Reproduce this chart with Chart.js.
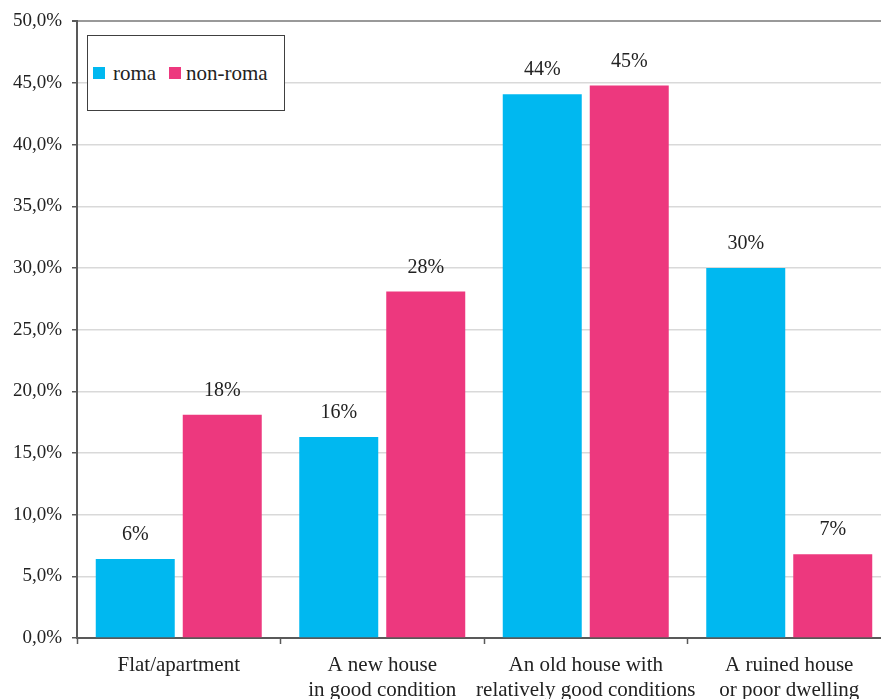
<!DOCTYPE html>
<html>
<head>
<meta charset="utf-8">
<script src="https://cdn.jsdelivr.net/npm/chart.js@4"></script>
<style>
  html, body { margin: 0; padding: 0; background: #fff; overflow: hidden; }
  #wrap { position: relative; width: 895px; height: 699px; }
  #legendBox {
    position: absolute; left: 87px; top: 35px; width: 198px; height: 76px;
    border: 1px solid #404040; box-sizing: border-box; background: #fff;
    font-family: "Liberation Serif", "DejaVu Serif", serif; font-size: 21px; color: #222;
  }
  #legendBox span.sw { position: absolute; top: 31px; width: 12px; height: 12px; }
  #legendBox span.tx { position: absolute; top: 25px; line-height: 24px; }
</style>
</head>
<body>
<div id="wrap">
  <canvas id="myChart" width="895" height="699"></canvas>
  <div id="legendBox">
    <span class="sw" style="left:5px;background:#00b8f0"></span><span class="tx" style="left:25px">roma</span>
    <span class="sw" style="left:81px;background:#ed387e"></span><span class="tx" style="left:98px">non-roma</span>
  </div>
</div>
<script>
//Housing type categories (x-axis)
const categories = [
    ['Flat/apartment'],
    ['A new house', 'in good condition'],
    ['An old house with', 'relatively good conditions'],
    ['A ruined house', 'or poor dwelling']
];
const romaValues = [6.4, 16.3, 44.1, 30.0];      //roma share, %
const nonRomaValues = [18.1, 28.1, 44.8, 6.8];   //non-roma share, %
const romaLabels = ['6%', '16%', '44%', '30%'];
const nonRomaLabels = ['18%', '28%', '45%', '7%'];

const serif = '"Liberation Serif", "DejaVu Serif", serif';

//draw the percent labels above each bar
const barLabels = {
    id: 'barLabels',
    afterDatasetsDraw(chart) {
        const ctx = chart.ctx;
        ctx.save();
        ctx.font = '20px ' + serif;
        ctx.fillStyle = '#222';
        ctx.textAlign = 'center';
        ctx.textBaseline = 'bottom';
        chart.data.datasets.forEach((ds, i) => {
            chart.getDatasetMeta(i).data.forEach((bar, j) => {
                ctx.fillText(ds.pctLabels[j], bar.x, bar.y - 14);
            });
        });
        ctx.restore();
    }
};

const ctx = document.getElementById('myChart');
const myChart = new Chart(ctx, {
    type: 'bar',
    data: {
        labels: categories,
        datasets: [
            {
                label: 'roma',
                data: romaValues,
                pctLabels: romaLabels,
                backgroundColor: '#00b8f0',
                categoryPercentage: 0.855,
                barPercentage: 0.908
            },
            {
                label: 'non-roma',
                data: nonRomaValues,
                pctLabels: nonRomaLabels,
                backgroundColor: '#ed387e',
                categoryPercentage: 0.855,
                barPercentage: 0.908
            }
        ]
    },
    options: {
        responsive: false,
        animation: false,
        layout: { padding: { top: 20, right: 4, left: 0, bottom: 0 } },
        scales: {
            x: {
                grid: {
                    display: true,
                    drawOnChartArea: false,
                    tickLength: 6,
                    tickColor: '#595959',
                    tickWidth: 1.5
                },
                border: { color: '#595959', width: 2 },
                ticks: {
                    color: '#222',
                    font: { family: serif, size: 21, lineHeight: 1.2 },
                    padding: 9,
                    maxRotation: 0,
                    autoSkip: false
                },
                afterFit(scale) { scale.height = 61; }
            },
            y: {
                min: 0,
                max: 50,
                ticks: {
                    stepSize: 5,
                    color: '#222',
                    padding: 10,
                    font: { family: serif, size: 19 },
                    callback: v => v.toFixed(1).replace('.', ',') + '%'
                },
                grid: {
                    color: c => (c.tick && c.tick.value === 50) ? '#999' : '#d9d9d9',
                    lineWidth: c => (c.tick && c.tick.value === 50) ? 2 : 1.5,
                    tickLength: 5,
                    tickColor: '#595959'
                },
                border: { color: '#595959', width: 2 },
                afterFit(scale) { scale.width = 77; }
            }
        },
        plugins: {
            legend: { display: false },
            tooltip: { enabled: false }
        }
    },
    plugins: [barLabels]
});
</script>
</body>
</html>
